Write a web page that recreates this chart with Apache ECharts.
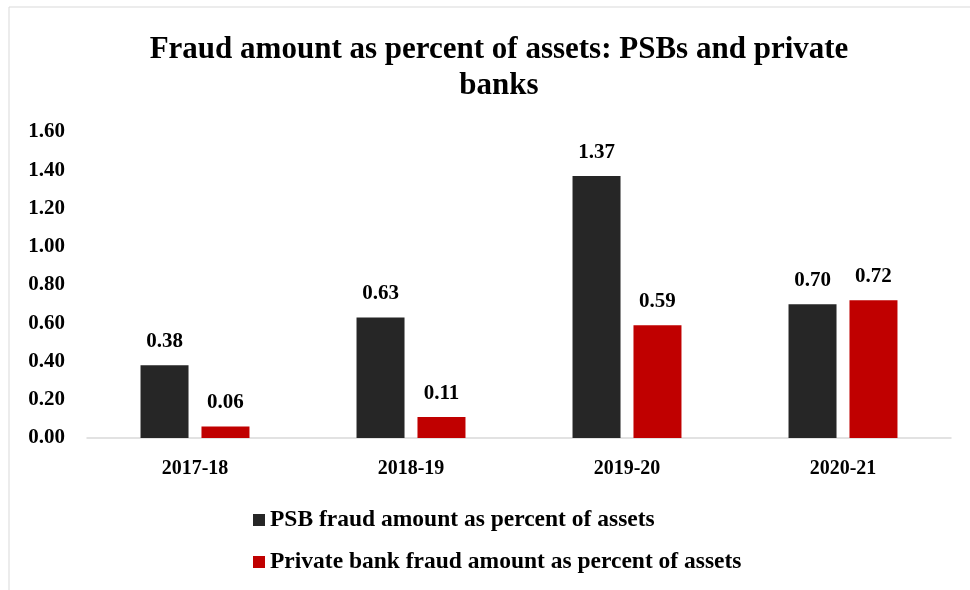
<!DOCTYPE html>
<html><head><meta charset="utf-8">
<script src="https://cdn.jsdelivr.net/npm/echarts@6/dist/echarts.min.js"></script>
<style>html,body{margin:0;padding:0;background:#fff}#c{width:970px;height:590px}</style>
</head><body><div id="c"></div>
<script>
const categories = ['2017-18', '2018-19', '2019-20', '2020-21'];
const psbValues = [0.38, 0.63, 1.37, 0.70];
const privateValues = [0.06, 0.11, 0.59, 0.72];
const seriesNames = ['PSB fraud amount as percent of assets', 'Private bank fraud amount as percent of assets'];
const titleText = 'Fraud amount as percent of assets: PSBs and private\nbanks';

const FONT = '"Liberation Serif", serif';
const chart = echarts.init(document.getElementById('c'), null, {renderer: 'canvas'});
const labelStyle = {show: true, position: 'top', distance: 13, fontFamily: FONT, fontWeight: 'bold', fontSize: 21, color: '#000', formatter: p => p.value.toFixed(2)};
chart.setOption({
  animation: false,
  textStyle: {fontFamily: FONT},
  title: {
    text: titleText, left: 494, top: 27, textAlign: 'center',
    textStyle: {fontFamily: FONT, fontWeight: 'bold', fontSize: 31, color: '#000', lineHeight: 36}
  },
  graphic: [{type: 'rect', shape: {x: 9, y: 7, width: 1000, height: 600}, style: {fill: 'none', stroke: '#d9d9d9', lineWidth: 1}, silent: true}],
  legend: {
    orient: 'vertical', left: 248, top: 503, itemGap: 18, itemWidth: 12, itemHeight: 12,
    icon: 'rect',
    textStyle: {fontFamily: FONT, fontWeight: 'bold', fontSize: 23.5, color: '#000'}
  },
  grid: {left: 87, right: 19, top: 132, bottom: 152, containLabel: false},
  xAxis: {
    type: 'category', data: categories,
    axisLine: {lineStyle: {color: '#d9d9d9', width: 1.5}},
    axisTick: {show: false},
    axisLabel: {fontFamily: FONT, fontWeight: 'bold', fontSize: 20, color: '#000', margin: 21}
  },
  yAxis: {
    type: 'value', min: 0, max: 1.6, interval: 0.2,
    splitLine: {show: false},
    axisLine: {show: false}, axisTick: {show: false},
    axisLabel: {fontFamily: FONT, fontWeight: 'bold', fontSize: 21, color: '#000', margin: 22,
      formatter: v => v.toFixed(2)}
  },
  series: [
    {name: seriesNames[0], type: 'bar', data: psbValues, barWidth: 48, barGap: '27%',
      itemStyle: {color: '#262626'}, label: labelStyle},
    {name: seriesNames[1], type: 'bar', data: privateValues, barWidth: 48,
      itemStyle: {color: '#c00000'}, label: labelStyle}
  ]
});
</script></body></html>
